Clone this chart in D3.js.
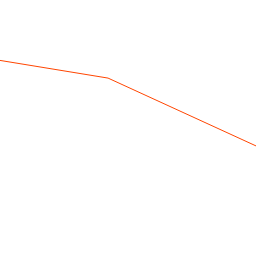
<!DOCTYPE html>
<html>
<head>
<meta charset="utf-8">
<script src="https://cdn.jsdelivr.net/npm/d3@7"></script>
<style>
  html, body { margin: 0; padding: 0; background: #fff; overflow: hidden; }
</style>
</head>
<body>
<svg id="chart" width="256" height="256"></svg>
<script>
const xValues = [0, 42.2, 100];
const yValues = [76.4, 69.5, 43];

const width = 256;
const height = 256;

const svg = d3.select('#chart');

const x = d3.scaleLinear().domain([0, 100]).range([0, width]);
const y = d3.scaleLinear().domain([0, 100]).range([height, 0]);

const points = xValues.map((d, i) => [d, yValues[i]]);

const line = d3.line()
    .x(d => x(d[0]))
    .y(d => y(d[1]));

svg.append('path')
    .datum(points)
    .attr('fill', 'none')
    .attr('stroke', '#ff4500')
    .attr('stroke-width', 1)
    .attr('d', line);
</script>
</body>
</html>
